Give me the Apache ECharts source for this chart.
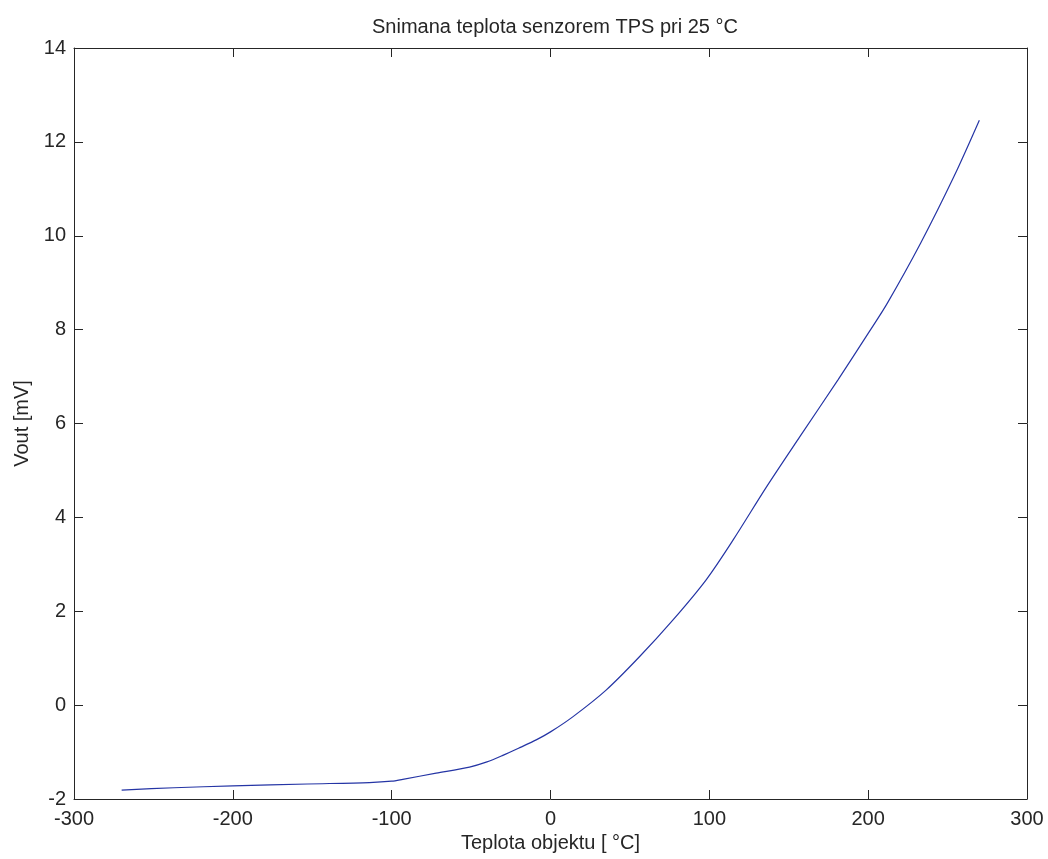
<!DOCTYPE html>
<html>
<head>
<meta charset="utf-8">
<title>Snimana teplota senzorem TPS</title>
<script src="https://cdn.jsdelivr.net/npm/echarts@6/dist/echarts.min.js"></script>
<style>
  html, body { margin: 0; padding: 0; background: #ffffff; }
  #chart { width: 1048px; height: 859px; }
</style>
</head>
<body>
<div id="chart"></div>
<script>
// Object temperature [°C] and sensor output voltage [mV]
const temperature = [-270, -237, -200, -153, -114, -100, -93, -72, -51, -40, -30, -19, -9, 0,
                     14, 35, 56, 77, 98, 115, 136, 157, 181, 200, 212, 233, 254, 270];
const vout = [-1.81, -1.76, -1.72, -1.68, -1.65, -1.62, -1.58, -1.45, -1.32, -1.21, -1.07, -0.90, -0.74, -0.57,
              -0.25, 0.32, 1.03, 1.81, 2.67, 3.52, 4.65, 5.72, 6.93, 7.92, 8.56, 9.84, 11.26, 12.46];

const titleText = 'Snimana teplota senzorem TPS pri 25 °C';
const xName = 'Teplota objektu [ °C]';
const yName = 'Vout [mV]';

const xRange = { min: -300, max: 300, interval: 100 };
const yRange = { min: -2, max: 14, interval: 2 };

const ink = '#262626';
const font = 'Liberation Sans, Arial, Helvetica, sans-serif';

const points = temperature.map((t, i) => [t, vout[i]]);

function boxAxis(range, position, showLabels, extra) {
  return Object.assign({
    type: 'value',
    position: position,
    min: range.min,
    max: range.max,
    interval: range.interval,
    axisLine: { show: true, onZero: false, lineStyle: { color: ink, width: 1 } },
    axisTick: { show: true, inside: true, length: 9, lineStyle: { color: ink, width: 1 } },
    axisLabel: { show: showLabels, color: ink, fontSize: 20, fontFamily: font },
    splitLine: { show: false }
  }, extra || {});
}

const chart = echarts.init(document.getElementById('chart'), null, { renderer: 'canvas' });
chart.setOption({
  backgroundColor: '#ffffff',
  animation: false,
  title: {
    text: titleText,
    left: 550,
    textAlign: 'center',
    top: 12,
    textStyle: { color: ink, fontSize: 20, fontWeight: 'normal', fontFamily: font }
  },
  grid: { left: 74, right: 21, top: 48, bottom: 60, containLabel: false },
  xAxis: [
    boxAxis(xRange, 'bottom', true, {
      name: xName,
      nameLocation: 'middle',
      nameGap: 33,
      nameTextStyle: { color: ink, fontSize: 20, fontFamily: font },
      axisLabel: { show: true, color: ink, fontSize: 20, fontFamily: font, margin: 10 }
    }),
    boxAxis(xRange, 'top', false)
  ],
  yAxis: [
    boxAxis(yRange, 'left', true, {
      name: yName,
      nameLocation: 'middle',
      nameGap: 38,
      nameTextStyle: { color: ink, fontSize: 20, fontFamily: font },
      axisLabel: { show: true, color: ink, fontSize: 20, fontFamily: font, margin: 8 }
    }),
    boxAxis(yRange, 'right', false)
  ],
  series: [{
    type: 'line',
    xAxisIndex: 0,
    yAxisIndex: 0,
    data: points,
    smooth: 0.3,
    showSymbol: false,
    lineStyle: { color: '#2535a5', width: 1.2 }
  }]
});
</script>
</body>
</html>
